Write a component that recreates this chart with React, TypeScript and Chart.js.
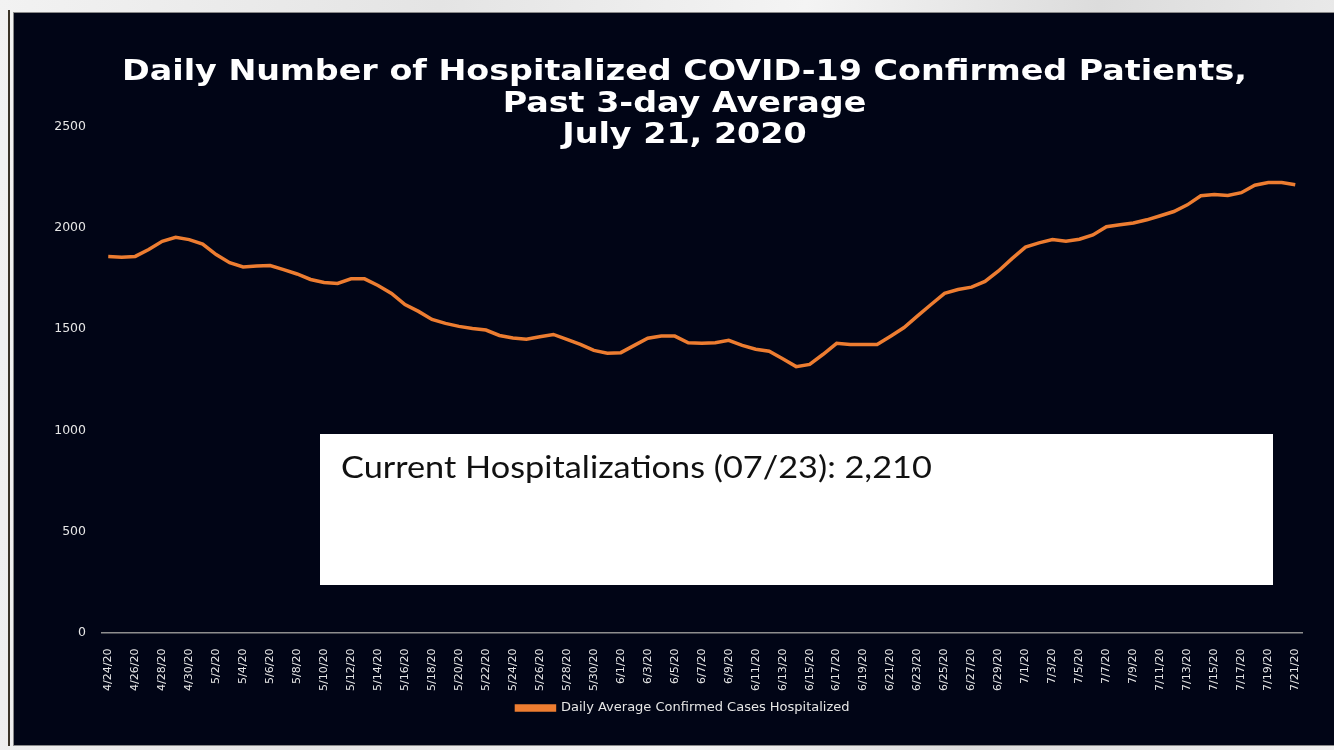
import React, { useEffect, useRef } from 'react';
import { Chart, registerables } from 'chart.js';

Chart.register(...registerables);

const titleLines = [
  'Daily Number of Hospitalized COVID-19 Confirmed Patients,',
  'Past 3-day Average',
  'July 21, 2020',
];

const seriesName = 'Daily Average Confirmed Cases Hospitalized';

const dates = [
  '4/24/20', '4/25/20', '4/26/20', '4/27/20', '4/28/20', '4/29/20', '4/30/20',
  '5/1/20', '5/2/20', '5/3/20', '5/4/20', '5/5/20', '5/6/20', '5/7/20', '5/8/20', '5/9/20', '5/10/20',
  '5/11/20', '5/12/20', '5/13/20', '5/14/20', '5/15/20', '5/16/20', '5/17/20', '5/18/20', '5/19/20', '5/20/20',
  '5/21/20', '5/22/20', '5/23/20', '5/24/20', '5/25/20', '5/26/20', '5/27/20', '5/28/20', '5/29/20', '5/30/20', '5/31/20',
  '6/1/20', '6/2/20', '6/3/20', '6/4/20', '6/5/20', '6/6/20', '6/7/20', '6/8/20', '6/9/20', '6/10/20',
  '6/11/20', '6/12/20', '6/13/20', '6/14/20', '6/15/20', '6/16/20', '6/17/20', '6/18/20', '6/19/20', '6/20/20',
  '6/21/20', '6/22/20', '6/23/20', '6/24/20', '6/25/20', '6/26/20', '6/27/20', '6/28/20', '6/29/20', '6/30/20',
  '7/1/20', '7/2/20', '7/3/20', '7/4/20', '7/5/20', '7/6/20', '7/7/20', '7/8/20', '7/9/20', '7/10/20',
  '7/11/20', '7/12/20', '7/13/20', '7/14/20', '7/15/20', '7/16/20', '7/17/20', '7/18/20', '7/19/20', '7/20/20', '7/21/20',
];

const hospitalized = [
  1859, 1856, 1860, 1894, 1935, 1955, 1943, 1921, 1869, 1829,
  1808, 1812, 1815, 1795, 1773, 1746, 1731, 1726, 1749, 1749,
  1716, 1677, 1622, 1588, 1548, 1529, 1514, 1504, 1496, 1469,
  1457, 1450, 1463, 1474, 1450, 1425, 1395, 1381, 1384, 1420,
  1455, 1466, 1466, 1433, 1430, 1433, 1445, 1420, 1401, 1391,
  1354, 1315, 1326, 1376, 1430, 1424, 1424, 1424, 1465, 1508,
  1566, 1622, 1677, 1696, 1708, 1736, 1788, 1849, 1906, 1927,
  1943, 1935, 1945, 1966, 2007, 2017, 2025, 2041, 2061, 2082,
  2115, 2160, 2166, 2161, 2175, 2212, 2225, 2225, 2214,
];

const yMin = 0;
const yMax = 2500;
const yStep = 500;

const currentNote = 'Current Hospitalizations (07/23): 2,210';

const titlePlugin = {
  id: 'customTitle',
  afterDraw(chart: any) {
    const ctx = chart.ctx;
    ctx.save();
    ctx.fillStyle = '#ffffff';
    ctx.textAlign = 'center';
    ctx.textBaseline = 'alphabetic';
    ctx.font = "bold 28px 'DejaVu Sans'";
    const w = ctx.measureText(titleLines[0]).width;
    const sx = 1125 / w;
    const cx = 670.5;
    const baselines = [66.5, 99, 130];
    titleLines.forEach((t, i) => {
      ctx.save();
      ctx.translate(cx, baselines[i]);
      ctx.scale(sx, 1);
      ctx.fillText(t, 0, 0);
      ctx.restore();
    });
    ctx.restore();
  },
};

const legendShiftPlugin = {
  id: 'legendShift',
  afterLayout(chart: any) {
    const l = chart.legend;
    if (l) {
      l.left += 25;
      l.right += 25;
    }
  },
};

export default function App() {
  const ref = useRef<HTMLCanvasElement>(null);
  useEffect(() => {
    document.body.style.margin = '0';
    const chart = new Chart(ref.current as HTMLCanvasElement, {
      type: 'line',
      data: {
        labels: dates,
        datasets: [
          {
            label: seriesName,
            data: hospitalized,
            borderColor: '#ED7D31',
            backgroundColor: '#ED7D31',
            borderWidth: 3.5,
            pointRadius: 0,
            tension: 0,
            fill: false,
          },
        ],
      },
      options: {
        animation: false,
        responsive: false,
        maintainAspectRatio: false,
        layout: { padding: { top: 114, right: 32, left: 0, bottom: 20.5 } },
        plugins: {
          title: { display: false },
          tooltip: { enabled: false },
          legend: {
            display: true,
            position: 'bottom',
            labels: {
              color: '#e6e6e6',
              boxWidth: 38,
              boxHeight: 4,
              padding: 7,
              font: { family: "'DejaVu Sans'", size: 13 },
            },
          },
        },
        scales: {
          x: {
            offset: true,
            grid: { display: false },
            border: { display: true, color: '#8e8e8e', width: 1.5 },
            ticks: {
              autoSkip: false,
              maxRotation: 90,
              minRotation: 90,
              padding: 8,
              color: '#e6e6e6',
              font: { family: "'DejaVu Sans'", size: 11 },
              callback: (_v: any, i: number) => (i % 2 === 0 ? dates[i] : ''),
            },
            afterFit: (s: any) => {
              s.height = 62;
            },
          },
          y: {
            min: yMin,
            max: yMax,
            grid: { display: false },
            border: { display: false },
            ticks: {
              stepSize: yStep,
              padding: 7.5,
              color: '#e6e6e6',
              font: { family: "'DejaVu Sans'", size: 12.5 },
              callback: (v: any) => String(v),
            },
            afterFit: (s: any) => {
              s.width = 87.5;
            },
          },
        },
      },
      plugins: [titlePlugin, legendShiftPlugin],
    });
    return () => chart.destroy();
  }, []);

  return (
    <div
      style={{
        position: 'fixed',
        left: 0,
        top: 0,
        width: 1334,
        height: 750,
        overflow: 'hidden',
        background: 'linear-gradient(100deg, #f2f2f2 0%, #e4e4e4 30%, #f4f4f4 55%, #dcdcdc 75%, #f0f0f0 100%)',
      }}
    >
      <div style={{ position: 'absolute', left: 8, top: 10, width: 2, height: 736, background: '#3b3428' }} />
      <div
        style={{
          position: 'absolute',
          left: 13,
          top: 12,
          width: 1321,
          height: 732,
          background: '#010516',
          borderTop: '1px solid #8a8a8a',
          borderLeft: '1px solid #8a8a8a',
          borderBottom: '1px solid #8a8a8a',
        }}
      >
        <canvas ref={ref} width={1320} height={732} style={{ display: 'block' }} />
      </div>
      <div
        style={{
          position: 'absolute',
          left: 320,
          top: 434,
          width: 953,
          height: 151,
          background: '#ffffff',
          boxSizing: 'border-box',
          paddingLeft: 21,
          paddingTop: 14,
          color: '#111111',
        }}
      >
        <div
          style={{
            fontFamily: 'Lato',
            fontSize: 30,
            lineHeight: '36px',
            whiteSpace: 'nowrap',
            transform: 'scaleX(1.143)',
            transformOrigin: 'left top',
          }}
        >
          {currentNote}
        </div>
      </div>
    </div>
  );
}
